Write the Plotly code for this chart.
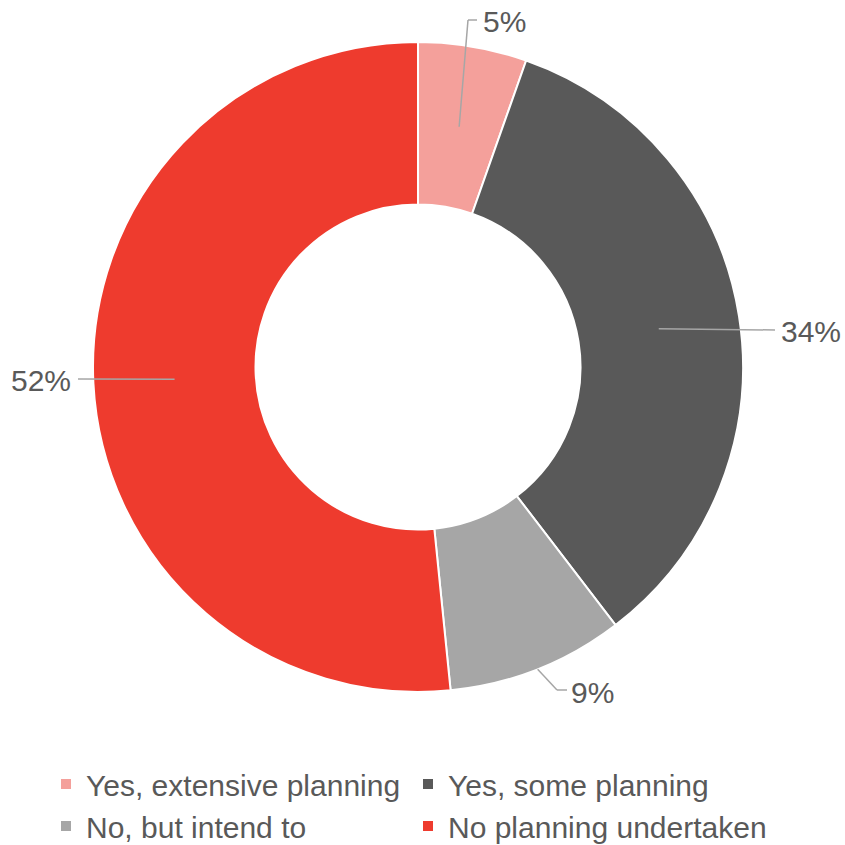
import math
import plotly.graph_objects as go

# ---- data ----
categories = ["Yes, extensive planning", "Yes, some planning", "No, but intend to", "No planning undertaken"]
values = [5.4, 34.2, 8.8, 51.6]
value_labels = ["5%", "34%", "9%", "52%"]

# ---- style ----
colors = ["#F4A09B", "#595959", "#A6A6A6", "#EE3B2E"]
W = H = 845
CX, CY, R = 418, 367, 325
HOLE = 0.5
TEXT_COLOR = "#595959"
FONT = "Liberation Sans, Arial, sans-serif"
LEGEND_TOP = 758           # px from top (container-referenced legend)
PLOT_H = LEGEND_TOP         # legend reserves the space below its top edge

# leader start radius fraction and label layout (elbow / label anchor in px)
leader = [
    dict(r=0.75, pts=[(468, 20), (477, 20)], lab=(481, 21), anchor="left"),
    dict(r=0.75, pts=[(775, 330)], lab=(779, 331), anchor="left"),
    dict(r=1.0, pts=[(557, 690), (567, 690)], lab=(569, 692), anchor="left"),
    dict(r=0.75, pts=[(78, 379)], lab=(73, 380), anchor="right"),
]

def px(x):
    return x / W

def py(y):
    return 1 - y / PLOT_H

fig = go.Figure(go.Pie(
    labels=categories,
    values=values,
    hole=HOLE,
    sort=False,
    direction="clockwise",
    rotation=0,
    textinfo="none",
    marker=dict(colors=colors, line=dict(color="white", width=2)),
    domain=dict(x=[px(CX - R), px(CX + R)], y=[py(CY + R), py(CY - R)]),
))

total = sum(values)
cum = 0
shapes = []
annotations = []
for v, lab, ld in zip(values, value_labels, leader):
    mid = (cum + v / 2) / total * 2 * math.pi
    cum += v
    rr = R * ld["r"]
    sx = CX + rr * math.sin(mid)
    sy = CY - rr * math.cos(mid)
    pts = [(sx, sy)] + ld["pts"]
    for (x0, y0), (x1, y1) in zip(pts[:-1], pts[1:]):
        shapes.append(dict(type="line", xref="paper", yref="paper",
                           x0=px(x0), y0=py(y0), x1=px(x1), y1=py(y1),
                           line=dict(color="#A6A6A6", width=1.5)))
    annotations.append(dict(text=lab, xref="paper", yref="paper",
                            x=px(ld["lab"][0]), y=py(ld["lab"][1]),
                            xanchor=ld["anchor"], yanchor="middle", showarrow=False,
                            font=dict(size=30, color=TEXT_COLOR, family=FONT)))

fig.update_layout(
    width=W, height=H,
    margin=dict(l=0, r=0, t=0, b=0),
    paper_bgcolor="white",
    plot_bgcolor="white",
    shapes=shapes,
    annotations=annotations,
    showlegend=True,
    legend=dict(orientation="h", x=46 / W, y=1 - LEGEND_TOP / H,
                xref="paper", yref="container", xanchor="left", yanchor="top",
                entrywidth=317, entrywidthmode="pixels",
                font=dict(size=30, color=TEXT_COLOR, family=FONT),
                itemclick=False, itemdoubleclick=False),
    font=dict(family=FONT),
)

fig.write_html("out.html")
